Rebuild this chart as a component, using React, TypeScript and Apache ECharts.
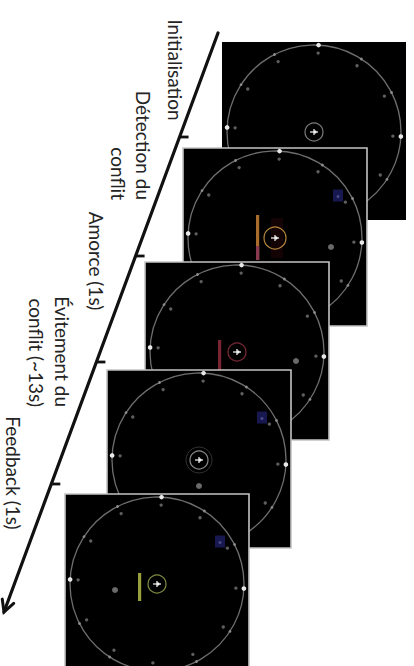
import React, { useEffect, useRef } from "react";
import * as echarts from "echarts";

// ---- Data: stages of a trial (timeline labels) ----
const stageLines: string[][] = [
  ["Initialisation"],
  ["Détection du", "conflit"],
  ["Amorce (1s)"],
  ["Évitement du", "conflit (~13s)"],
  ["Feedback (1s)"],
];
// colour of the conflict indicator / centre ring in each screenshot
const ringColors = ["#7a7a7a", "#b8873a", "#7c2a36", "#8a8a8a", "#7f8c3c"];
const barColors = ["", "#a86c2c", "#7a2534", "", "#98a03c"];
const hasBlueTarget = [false, true, false, true, true];
// other aircraft (offset of grey dot from centre), per screenshot
const otherPlane: ([number, number] | null)[] = [null, [56, 9], [59, 9], [0, 26], [-42, 6]];

// ---- Layout (positions only) ----
const W = 414;
const H = 666;
const panelLeft = [222, 183, 145, 107, 65];
const panelTop = [42, 148, 262, 370, 494];
const panelW = 184;
const panelH = 178;
const tickY = [137, 256, 362, 484];
const arrowStart = [218, 33];
const arrowEnd = [4, 612];
const labelLayout = [
  [{ x: 175, y: 70, align: "center" }],
  [
    { x: 143, y: 200, align: "right" },
    { x: 118, y: 200, align: "right" },
  ],
  [{ x: 96, y: 261, align: "center" }],
  [
    { x: 62, y: 407, align: "right" },
    { x: 36, y: 407, align: "right" },
  ],
  [{ x: 13, y: 473, align: "center" }],
];

function buildGraphic() {
  const els: any[] = [];
  const slope = (arrowEnd[0] - arrowStart[0]) / (arrowEnd[1] - arrowStart[1]);
  const lineX = (y: number) => arrowStart[0] + slope * (y - arrowStart[1]);

  // timeline arrow
  els.push({
    type: "line",
    shape: { x1: arrowStart[0], y1: arrowStart[1], x2: arrowEnd[0], y2: arrowEnd[1] },
    style: { stroke: "#111", lineWidth: 3.2, lineCap: "round" },
    z: 5,
  });
  const dx = arrowEnd[0] - arrowStart[0];
  const dy = arrowEnd[1] - arrowStart[1];
  const len = Math.hypot(dx, dy);
  const ux = dx / len;
  const uy = dy / len;
  const ang = (28 * Math.PI) / 180;
  const hl = 13;
  const arm = (s: number) => {
    const c = Math.cos(s * ang);
    const sn = Math.sin(s * ang);
    const bx = -ux * c + uy * sn;
    const by = -ux * sn - uy * c;
    return [arrowEnd[0] + bx * hl, arrowEnd[1] + by * hl];
  };
  els.push({
    type: "polyline",
    shape: { points: [arm(1), arrowEnd, arm(-1)] },
    style: { stroke: "#111", lineWidth: 3, fill: null, lineCap: "round", lineJoin: "miter" },
    z: 5,
  });
  tickY.forEach((y) => {
    const x = lineX(y);
    els.push({
      type: "line",
      shape: { x1: x, y1: y, x2: x + 9, y2: y },
      style: { stroke: "#111", lineWidth: 2.8 },
      z: 5,
    });
  });

  // labels
  stageLines.forEach((lines, i) => {
    lines.forEach((t, j) => {
      const p = labelLayout[i][j];
      els.push({
        type: "text",
        x: p.x,
        y: p.y,
        rotation: -Math.PI / 2,
        style: {
          text: t,
          fontFamily: "Lato",
          fontSize: 19,
          fill: "#242424",
          align: p.align,
          verticalAlign: "middle",
        },
        z: 5,
      });
    });
  });

  // screenshots
  const tilt = (3 * Math.PI) / 180;
  stageLines.forEach((_, i) => {
    const x0 = panelLeft[i];
    const y0 = panelTop[i];
    const cx = x0 + panelW / 2;
    const cy = y0 + panelH / 2 + 1;
    const R = 87;
    const z = 10 + i;
    const children: any[] = [];
    children.push({
      type: "rect",
      shape: { x: x0, y: y0, width: panelW, height: panelH },
      style: { fill: "#000", stroke: i === 0 ? "#000" : "#c4c4c4", lineWidth: i === 0 ? 0 : 1.6 },
    });
    children.push({
      type: "circle",
      shape: { cx, cy, r: R },
      style: { fill: null, stroke: "#6e6e6e", lineWidth: 1.3 },
    });
    for (let k = 0; k < 12; k++) {
      const a = (k * Math.PI) / 6 + tilt;
      const card = k % 3 === 0;
      const px = cx + R * Math.sin(a);
      const py = cy - R * Math.cos(a);
      children.push({
        type: "circle",
        shape: { cx: px, cy: py, r: card ? 2.3 : 1.4 },
        style: { fill: card ? "#e8e8e8" : "#8c8c8c" },
      });
      const lx = cx + (R - 8) * Math.sin(a);
      const ly = cy - (R - 8) * Math.cos(a);
      children.push({
        type: "circle",
        shape: { cx: lx, cy: ly, r: 1.7 },
        style: { fill: "#5e5e5e" },
      });
    }
    if (hasBlueTarget[i]) {
      const a = (56 * Math.PI) / 180;
      const bx = cx + 76 * Math.sin(a);
      const by = cy - 76 * Math.cos(a);
      children.push({
        type: "rect",
        shape: { x: bx - 5, y: by - 6, width: 10, height: 12 },
        style: { fill: "#181850" },
      });
      children.push({
        type: "circle",
        shape: { cx: bx, cy: by + 1, r: 1.5 },
        style: { fill: "#4a4a8a" },
      });
    }
    const op = otherPlane[i];
    if (op) {
      children.push({
        type: "circle",
        shape: { cx: cx + op[0], cy: cy + op[1], r: 3 },
        style: { fill: "#6a6a6a" },
      });
    }
    if (barColors[i]) {
      const top = i === 1 ? -23 : i === 2 ? -12 : -11;
      const bot = i === 1 ? 22 : i === 2 ? 24 : 17;
      if (i === 1) {
        children.push({
          type: "rect",
          shape: { x: cx - 4, y: cy - 20, width: 12, height: 40 },
          style: { fill: "rgba(90,15,25,0.22)" },
        });
      }
      children.push({
        type: "rect",
        shape: { x: cx - 19, y: cy + top, width: 3.2, height: bot - top },
        style: { fill: barColors[i] },
      });
      if (i === 1) {
        children.push({
          type: "rect",
          shape: { x: cx - 19, y: cy + 8, width: 3.2, height: bot - 8 },
          style: { fill: "#8a3a50" },
        });
      }
    }
    // centre ring
    children.push({
      type: "circle",
      shape: { cx, cy, r: i === 1 ? 11 : 9 },
      style: { fill: null, stroke: ringColors[i], lineWidth: 1.2 },
    });
    if (i === 3) {
      children.push({
        type: "circle",
        shape: { cx, cy, r: 13 },
        style: { fill: null, stroke: "#333", lineWidth: 1 },
      });
    }
    // own aircraft glyph
    children.push({
      type: "polyline",
      shape: { points: [[cx - 4, cy], [cx + 4, cy]] },
      style: { stroke: "#c8c8c8", lineWidth: 1.5 },
    });
    children.push({
      type: "polyline",
      shape: { points: [[cx, cy - 3], [cx, cy + 3]] },
      style: { stroke: "#c8c8c8", lineWidth: 1.5 },
    });
    children.push({
      type: "circle",
      shape: { cx: cx + 1, cy, r: 1.6 },
      style: { fill: "#f0f0f0" },
    });
    els.push({ type: "group", z, children });
  });
  return els;
}

export default function App() {
  const ref = useRef<HTMLDivElement>(null);
  useEffect(() => {
    if (!ref.current) return;
    const chart = echarts.init(ref.current, null, { renderer: "svg" });
    chart.setOption({
      animation: false,
      backgroundColor: "#ffffff",
      graphic: { elements: buildGraphic() },
    });
    return () => chart.dispose();
  }, []);
  return (
    <div
      ref={ref}
      style={{ position: "fixed", left: 0, top: 0, width: W, height: H }}
    />
  );
}
